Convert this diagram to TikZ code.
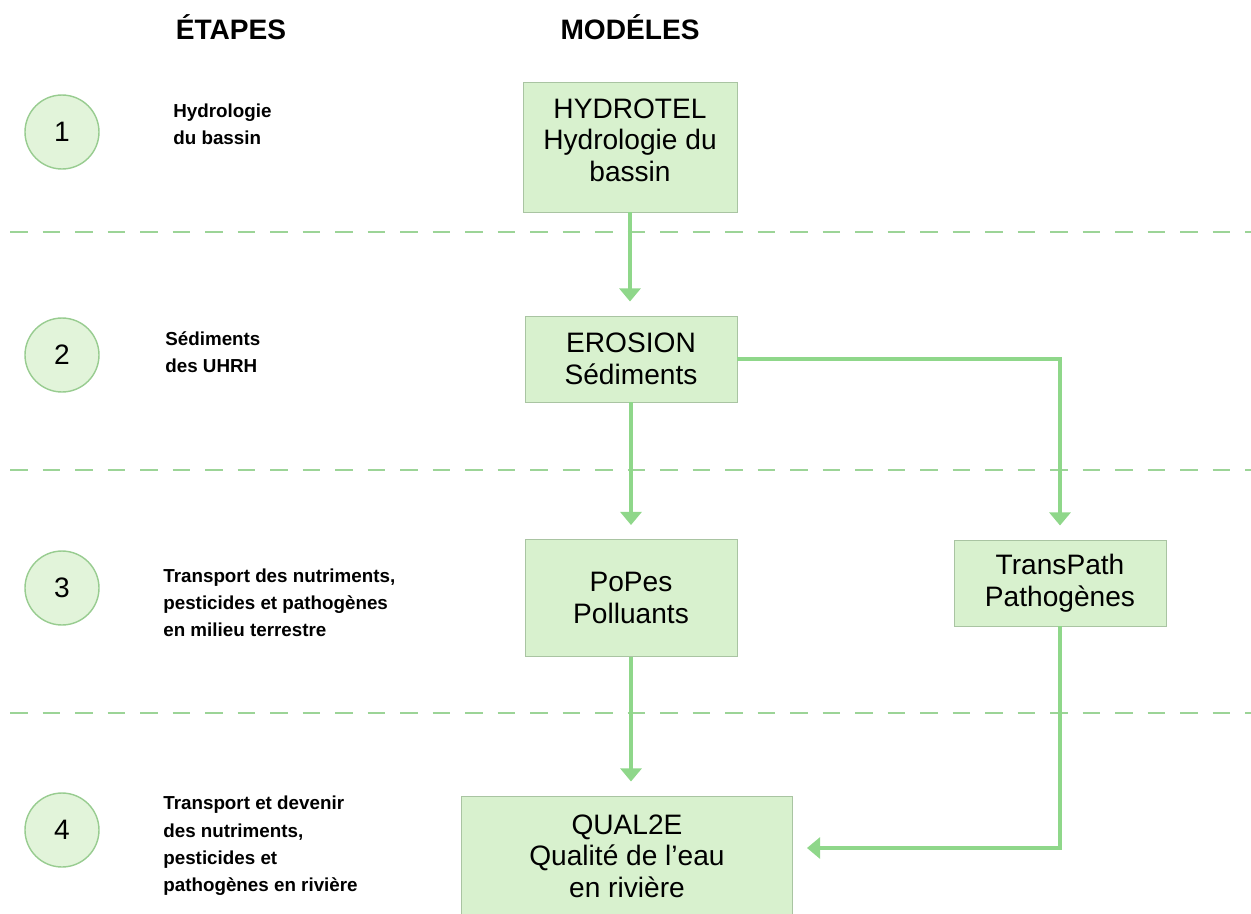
\documentclass[tikz,border=0pt]{standalone}
\usepackage{fontspec}
\setmainfont{Liberation Sans}
\usetikzlibrary{arrows.meta}

\definecolor{boxfill}{HTML}{D8F1CE}
\definecolor{boxline}{HTML}{A9C4A2}
\definecolor{flowgreen}{HTML}{8FD78A}
\definecolor{dashgreen}{HTML}{9CD497}
\definecolor{circfill}{HTML}{E2F4DA}
\definecolor{circline}{HTML}{98CC90}

\begin{document}
\begin{tikzpicture}[x=0.02cm,y=-0.02cm]

    \tikzset{
      modele/.style={
        draw=boxline,
        fill=boxfill,
        line width=0.5pt,
        align=center,
        inner sep=0pt,
        font=\fontsize{16}{18}\selectfont,
      },
      etape/.style={
        circle,
        draw=circline,
        fill=circfill,
        line width=0.8pt,
        minimum size=1.48cm,
        inner sep=0pt,
        font=\fontsize{16}{18}\selectfont,
      },
      etapetxt/.style={
        anchor=west,
        align=left,
        inner sep=0pt,
        font=\bfseries\fontsize{10.7}{15.5}\selectfont,
      },
      titre/.style={
        inner sep=0pt,
        font=\bfseries\fontsize{16}{18}\selectfont,
      },
      flow/.style={
        color=flowgreen,
        line width=1.8pt,
        -{Triangle[width=12pt,length=7.5pt]},
        shorten >=8pt,
      },
      separe/.style={
        color=dashgreen,
        line width=1.6pt,
        dash pattern=on 10pt off 8.5pt,
      },
    }
    \useasboundingbox (0,0) rectangle (1251,913);

	% titres
	\node[titre] (titetapes) at (231,27) {ÉTAPES};
	\node[titre] (titmodeles) at (630,27) {MODÉLES};

	% etapes
	\node[etape] (e1) at (62,132) {1};
	\node[etape] (e2) at (62,355) {2};
	\node[etape] (e3) at (62,588) {3};
	\node[etape] (e4) at (62,830) {4};
	\node[etapetxt] (t1) at (173,124) {Hydrologie\\du bassin};
	\node[etapetxt] (t2) at (165,352) {Sédiments\\des UHRH};
	\node[etapetxt] (t3) at (163,603) {Transport des nutriments,\\pesticides et pathogènes\\en milieu terrestre};
	\node[etapetxt] (t4) at (163,846) {Transport et devenir\\des nutriments,\\pesticides et\\pathogènes en rivière};

	% separations
	\draw[separe] (10,232) -- (1251,232);
	\draw[separe] (10,470) -- (1251,470);
	\draw[separe] (10,713) -- (1251,713);

	% modeles
	\node[modele,minimum width=4.28cm,minimum height=2.6cm,text depth=0.28cm] (hydrotel) at (630,147) {HYDROTEL\\Hydrologie du\\bassin};
	\node[modele,minimum width=4.24cm,minimum height=1.72cm] (erosion) at (631,359) {EROSION\\Sédiments};
	\node[modele,minimum width=4.24cm,minimum height=2.34cm] (popes) at (631,598) {PoPes\\Polluants};
	\node[modele,minimum width=4.24cm,minimum height=1.72cm] (transpath) at (1060,583) {TransPath\\Pathogènes};
	\node[modele,minimum width=6.62cm,minimum height=2.4cm] (qual) at (627,856) {QUAL2E\\Qualité de l’eau\\en rivière};

	% liens
	\draw[flow] (hydrotel.south) -- (hydrotel.south |- erosion.north);
	\draw[flow] (erosion.south) -- (popes.north);
	\draw[flow] (erosion.east) -| (transpath.north);
	\draw[flow] (popes.south) -- (popes.south |- qual.north);
	\draw[flow] (transpath.south) |- ([yshift=0.16cm]qual.east);

\end{tikzpicture}
\end{document}
